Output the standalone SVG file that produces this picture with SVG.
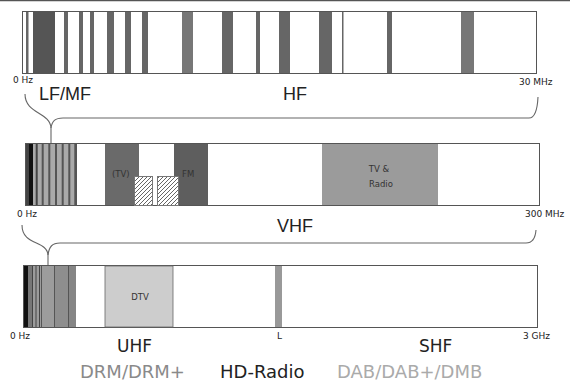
<svg xmlns="http://www.w3.org/2000/svg" width="570" height="387" viewBox="0 0 570 387">
<defs>
<style>
.bar{fill:#fff;stroke:#555;stroke-width:1}
.st{fill:#666}
.lbl{font-family:"DejaVu Sans",sans-serif;font-size:9px;fill:#222}
.big{font-family:"Liberation Sans",Arial,sans-serif;font-size:18px;fill:#222}
.band{font-family:"DejaVu Sans",sans-serif;font-size:17px;fill:#222}
.std{font-family:"DejaVu Sans",sans-serif;font-size:18px}
.in{font-family:"DejaVu Sans",sans-serif;font-size:8.5px;fill:#333}
.brace{fill:none;stroke:#666;stroke-width:1.1}
</style>
<pattern id="hatch" patternUnits="userSpaceOnUse" width="4" height="4">
<rect width="4" height="4" fill="#fff"/>
<path d="M-1,1 l2,-2 M0,4 l4,-4 M3,5 l2,-2" stroke="#666" stroke-width="1"/>
</pattern>
</defs>
<rect width="570" height="387" fill="#fff"/>
<line x1="0" y1="0.5" x2="570" y2="0.5" stroke="#555" stroke-width="1.5"/>

<g id="bar-lfmfhf">
<rect class="bar" x="22.5" y="11.5" width="514" height="62"/>
<rect class="st" x="26" y="12" width="2.5" height="61"/>
<rect x="33" y="12" width="22" height="61" fill="#555"/>
<rect class="st" x="64" y="12" width="4" height="61"/>
<rect class="st" x="79" y="12" width="4" height="61"/>
<rect class="st" x="90" y="12" width="4" height="61"/>
<rect class="st" x="107" y="12" width="7" height="61"/>
<rect class="st" x="125" y="12" width="6" height="61"/>
<rect class="st" x="142" y="12" width="6" height="61"/>
<rect x="182" y="12" width="11" height="61" fill="#777"/>
<rect class="st" x="222" y="12" width="11" height="61"/>
<rect class="st" x="256" y="12" width="4" height="61"/>
<rect class="st" x="279" y="12" width="11" height="61"/>
<rect class="st" x="319" y="12" width="13" height="61"/>
<rect class="st" x="342" y="12" width="1.5" height="61"/>
<rect class="st" x="387" y="12" width="5" height="61"/>
<rect x="461" y="12" width="13" height="61" fill="#777"/>
<text class="lbl" x="13" y="83">0 Hz</text>
<text class="lbl" x="519" y="85" font-size="10.5">30 MHz</text>
<text class="big" x="39" y="100">LF/MF</text>
<text class="big" x="283" y="100">HF</text>
</g>

<g id="bar-vhf">
<rect class="bar" x="25.5" y="143.5" width="514" height="62"/>
<rect x="26" y="144" width="51" height="61" fill="#aaa"/>
<rect x="26" y="144" width="3" height="61" fill="#444"/>
<rect x="29" y="144" width="4" height="61" fill="#111"/>
<rect x="35.7" y="144" width="2" height="61" fill="#444"/>
<rect x="41.7" y="144" width="2" height="61" fill="#555"/>
<rect x="48.3" y="144" width="2" height="61" fill="#555"/>
<rect x="55" y="144" width="2" height="61" fill="#555"/>
<rect x="61.7" y="144" width="2" height="61" fill="#555"/>
<rect x="68.3" y="144" width="2" height="61" fill="#555"/>
<rect x="74.3" y="144" width="2.7" height="61" fill="#555"/>
<rect x="105" y="144" width="34" height="61" fill="#6a6a6a"/>
<rect x="174" y="144" width="34" height="61" fill="#5e5e5e"/>
<rect x="134.5" y="176.5" width="18" height="29" fill="url(#hatch)" stroke="#777"/>
<rect x="157.5" y="176.5" width="21" height="29" fill="url(#hatch)" stroke="#777"/>
<text class="in" x="112" y="177" fill="#333">(TV)</text>
<text class="in" x="182" y="177">FM</text>
<rect x="322" y="144" width="116" height="61" fill="#9b9b9b"/>
<text class="in" x="379" y="172" text-anchor="middle">TV &amp;</text>
<text class="in" x="381" y="187" text-anchor="middle">Radio</text>
<text class="lbl" x="17" y="217">0 Hz</text>
<text class="lbl" x="525" y="217">300 MHz</text>
<text class="big" x="277" y="232">VHF</text>
</g>

<g id="bar-uhf">
<rect class="bar" x="23.5" y="265.5" width="514" height="62"/>
<rect x="24" y="266" width="52" height="61" fill="#9c9c9c"/>
<rect x="24" y="266" width="4" height="61" fill="#111"/>
<rect x="28" y="266" width="4" height="61" fill="#777"/>
<rect x="32" y="266" width="1" height="61" fill="#444"/>
<rect x="35.5" y="266" width="1" height="61" fill="#444"/>
<rect x="39" y="266" width="1" height="61" fill="#444"/>
<rect x="41" y="266" width="1" height="61" fill="#555"/>
<rect x="54" y="266" width="1" height="61" fill="#555"/>
<rect x="55" y="266" width="13" height="61" fill="#8e8e8e"/>
<rect x="68" y="266" width="1" height="61" fill="#555"/>
<rect x="69" y="266" width="7" height="61" fill="#858585"/>
<rect x="105" y="266" width="68" height="61" fill="#cdcdcd" stroke="#666" stroke-width="0.8"/>
<text class="in" x="140" y="300" text-anchor="middle" font-size="9.5">DTV</text>
<rect x="275" y="266" width="7" height="61" fill="#999"/>
<text class="lbl" x="10" y="339">0 Hz</text>
<text class="lbl" x="277" y="339" font-size="7">L</text>
<text class="lbl" x="523" y="339">3 GHz</text>
<text class="band" x="117" y="352">UHF</text>
<text class="band" x="419" y="352">SHF</text>
</g>

<g id="connectors">
<path class="brace" d="M25,94 C25,114 50,112 51,128 L51,143"/>
<path class="brace" d="M51,128 C52,121 55,118 63,118 L529,118 Q537,118 538,97"/>
<path class="brace" d="M22,225 C22,246 47,240 48,255 L48,265"/>
<path class="brace" d="M48,255 C49,247 52,243 60,243 L526,243 Q535,243 536,230"/>
</g>

<g id="standards">
<text class="std" x="80" y="378" fill="#8a8a8a">DRM/DRM+</text>
<text class="std" x="220" y="378" fill="#222">HD-Radio</text>
<text class="std" x="337" y="378" fill="#aaa">DAB/DAB+/DMB</text>
</g>
</svg>
